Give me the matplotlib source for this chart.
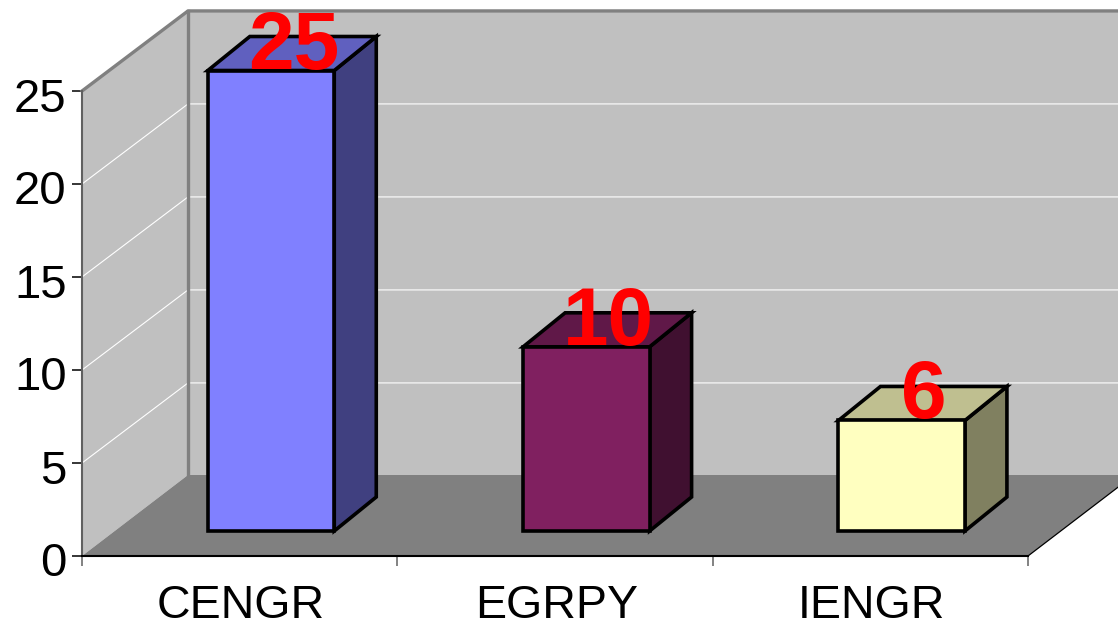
import matplotlib
matplotlib.use('Agg')
import matplotlib.pyplot as plt
from matplotlib.patches import Polygon
from matplotlib.transforms import ScaledTranslation

categories = ['CENGR', 'EGRPY', 'IENGR']
values = [25, 10, 6]
y_ticks = [0, 5, 10, 15, 20, 25]

front_colors = ['#8080FF', '#802060', '#FFFFC0']
top_colors = ['#6060BF', '#601848', '#BFBF90']
side_colors = ['#404080', '#401030', '#808060']

# pixels per data unit on the front plane
PX_X = 315.33
PX_Y = 18.6
W, H = 1118, 629

# depth of the walls and of the bars, in data units
WALL_DX = 106 / PX_X
WALL_DY = 81 / PX_Y
BAR_DX = 42 / PX_X
BAR_DY = 34 / PX_Y
BAR_BASE = 25 / PX_Y
BAR_LEFT = 0.399
BAR_WIDTH = 0.401
BAR_SCALE = 18.42 / PX_Y

plt.rcParams['font.family'] = ['Liberation Sans', 'DejaVu Sans']

fig = plt.figure(figsize=(W / 100, H / 100), dpi=100)
ax = fig.add_axes([0, 0, 1, 1])
ax.set_xlim(-82 / PX_X, (W - 82) / PX_X)
ax.set_ylim((556 - H) / PX_Y, 556 / PX_Y)

top = max(y_ticks)
x_end = len(categories)
wall_top = top + WALL_DY - 0.05

# back wall, side wall and floor
ax.add_patch(Polygon([(WALL_DX, WALL_DY), (WALL_DX, wall_top),
                      (x_end + WALL_DX, wall_top), (x_end + WALL_DX, WALL_DY)],
                     fc='#C0C0C0', ec='none', zorder=1))
ax.add_patch(Polygon([(0, 0), (0, top), (WALL_DX, wall_top), (WALL_DX, WALL_DY)],
                     fc='#C0C0C0', ec='none', zorder=1))
ax.add_patch(Polygon([(0, 0), (WALL_DX, WALL_DY), (x_end + WALL_DX, WALL_DY), (x_end, 0)],
                     fc='#808080', ec='none', zorder=2))

# white gridlines across both walls
for t in y_ticks[1:-1]:
    ax.plot([0, WALL_DX, x_end + WALL_DX], [t, t + wall_top - top, t + wall_top - top],
            color='white', lw=0.8, zorder=2)

# wall edges
ax.plot([0, WALL_DX, x_end + WALL_DX], [top, wall_top, wall_top], color='#808080', lw=2.4, zorder=3)
ax.plot([WALL_DX, WALL_DX], [WALL_DY, wall_top], color='#808080', lw=2.4, zorder=3)
ax.plot([x_end, x_end + WALL_DX], [0, WALL_DY], color='black', lw=0.9, zorder=3)

# the bars: front, top and side faces
for i, v in enumerate(values):
    x0 = i + BAR_LEFT
    x1 = x0 + BAR_WIDTH
    y0 = BAR_BASE
    y1 = BAR_BASE + v * BAR_SCALE
    faces = [
        ([(x1, y0), (x1 + BAR_DX, y0 + BAR_DY), (x1 + BAR_DX, y1 + BAR_DY), (x1, y1)], side_colors[i]),
        ([(x0, y1), (x1, y1), (x1 + BAR_DX, y1 + BAR_DY), (x0 + BAR_DX, y1 + BAR_DY)], top_colors[i]),
        ([(x0, y0), (x1, y0), (x1, y1), (x0, y1)], front_colors[i]),
    ]
    for pts, color in faces:
        ax.add_patch(Polygon(pts, fc=color, ec='black', lw=2.6, joinstyle='miter', zorder=4))
    ax.text(x0 + (BAR_WIDTH + BAR_DX) / 2 + 1.5 / PX_X, y1 + 2 / PX_Y, str(v), color='#FF0000',
            fontsize=59, fontweight='bold', ha='center', va='baseline', zorder=5)

# axes lines and ticks sit on the front plane
for side in ['top', 'right']:
    ax.spines[side].set_visible(False)
ax.spines['left'].set_position(('data', 0))
ax.spines['left'].set_bounds(0, top)
ax.spines['left'].set_color('#606060')
ax.spines['left'].set_linewidth(1.5)
ax.spines['bottom'].set_position(('data', 0))
ax.spines['bottom'].set_bounds(0, x_end)
ax.spines['bottom'].set_linewidth(1.5)
ax.spines['left'].set_zorder(3)
ax.spines['bottom'].set_zorder(3)

ax.set_yticks(y_ticks)
ax.tick_params(axis='y', length=7.5, width=1.1, pad=3.5, labelsize=34, direction='out')
shift = ScaledTranslation(0, -3.5 / 100, fig.dpi_scale_trans)
for label in ax.get_yticklabels():
    label.set_transform(label.get_transform() + shift)

ax.set_xticks(list(range(x_end + 1)))
ax.set_xticklabels([])
ax.tick_params(axis='x', length=7.5, width=1.1, color='#606060', direction='out')
ax.set_xticks([i + 0.5 for i in range(x_end)], minor=True)
ax.set_xticklabels(categories, minor=True)
ax.tick_params(axis='x', which='minor', length=0, pad=20, labelsize=33.5)
x_shift = ScaledTranslation(1.5 / 100, 0, fig.dpi_scale_trans)
for label in ax.get_xticklabels(minor=True):
    label.set_transform(label.get_transform() + x_shift)

fig.savefig('out.png', dpi=100, facecolor='white')
